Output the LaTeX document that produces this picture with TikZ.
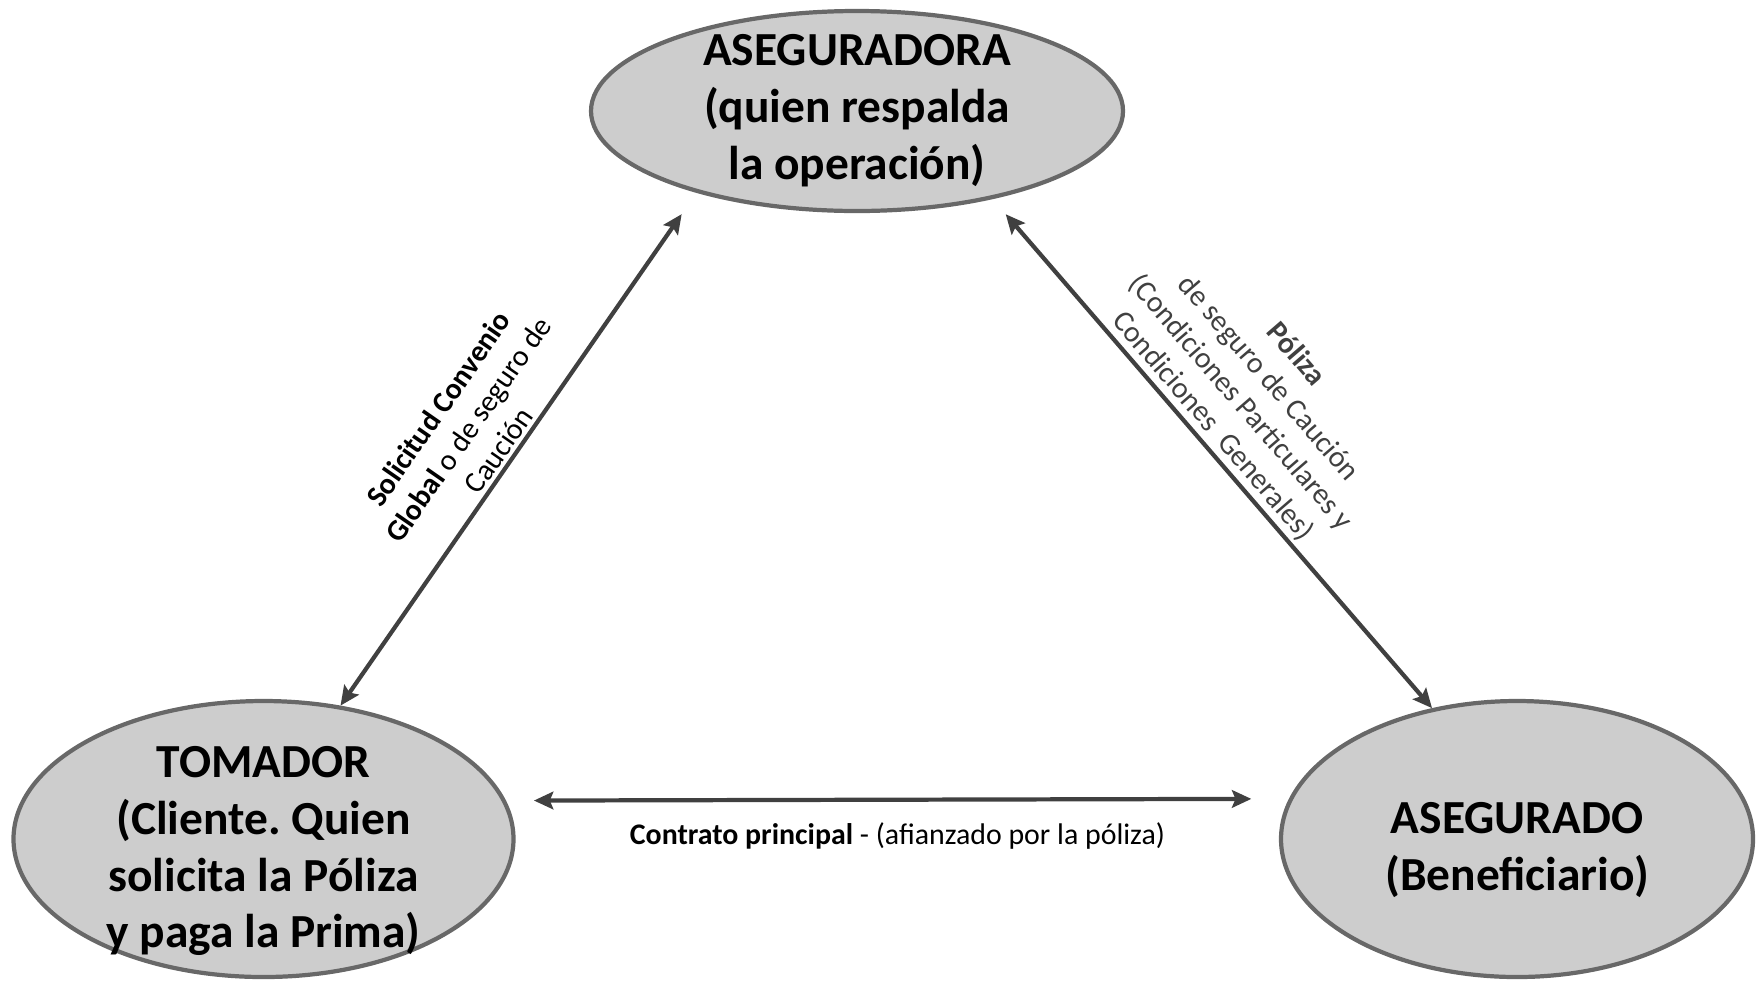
\documentclass[tikz,border=0pt]{standalone}
\usepackage{fontspec}
\setmainfont{Carlito}
\usetikzlibrary{shapes.geometric,arrows.meta,calc}
\frenchspacing

\definecolor{lineagris}{HTML}{404040}
\definecolor{bordegris}{HTML}{686868}
\definecolor{rellenogris}{HTML}{CDCDCD}

\begin{document}
\begin{tikzpicture}[
  parte/.style={ellipse, draw=bordegris, line width=1.2pt, fill=rellenogris, inner sep=0pt},
  nombre/.style={align=center, font=\fontsize{13.5}{16.2}\selectfont\bfseries},
  enlace/.style={{Stealth[length=5.5pt,width=5pt,inset=1pt]}-{Stealth[length=5.5pt,width=5pt,inset=1pt]}, draw=lineagris, line width=1.2pt},
  rotulo/.style={align=center, font=\fontsize{8.5}{10.4}\selectfont, inner sep=1pt}
]
\useasboundingbox (0,0) rectangle (17.62,9.80);

\node[parte, minimum width=5.32cm, minimum height=2.00cm] (aseguradora) at (8.57,8.69) {};
\node[parte, minimum width=5.00cm, minimum height=2.76cm] (tomador) at (2.635,1.41) {};
\node[parte, minimum width=4.72cm, minimum height=2.76cm] (asegurado) at (15.17,1.41) {};

\node[nombre] (aseguradoratxt) at (aseguradora.center) {ASEGURADORA\\(quien respalda\\la operación)};
\node[nombre] (tomadortxt) at ($(tomador.center)+(0,-0.12)$) {TOMADOR\\(Cliente. Quien\\solicita la Póliza\\y paga la Prima)};
\node[nombre] (aseguradotxt) at ($(asegurado.center)+(0,-0.11)$) {ASEGURADO\\(Beneficiario)};

\draw[enlace, shorten >=0.26cm] (tomador.60) --
  node[rotulo, pos=0.48, sloped, above] {\textbf{Solicitud Convenio}\\\textbf{Global} o de seguro de\\Caución}
  (aseguradora.207);
\draw[enlace, shorten <=0.20cm] (aseguradora.327) --
  node[rotulo, text=lineagris, pos=0.47, sloped, above] {\textbf{Póliza}\\de seguro de Caución\\(Condiciones Particulares y\\Condiciones\ \ Generales)}
  (asegurado.123);
\draw[enlace, shorten <=0.28cm, shorten >=0.376cm] (tomador.9.24) --
  node[rotulo, midway, below=5pt] {\textbf{Contrato principal} - (afianzado por la póliza)}
  (asegurado.170.2);
\end{tikzpicture}
\end{document}
